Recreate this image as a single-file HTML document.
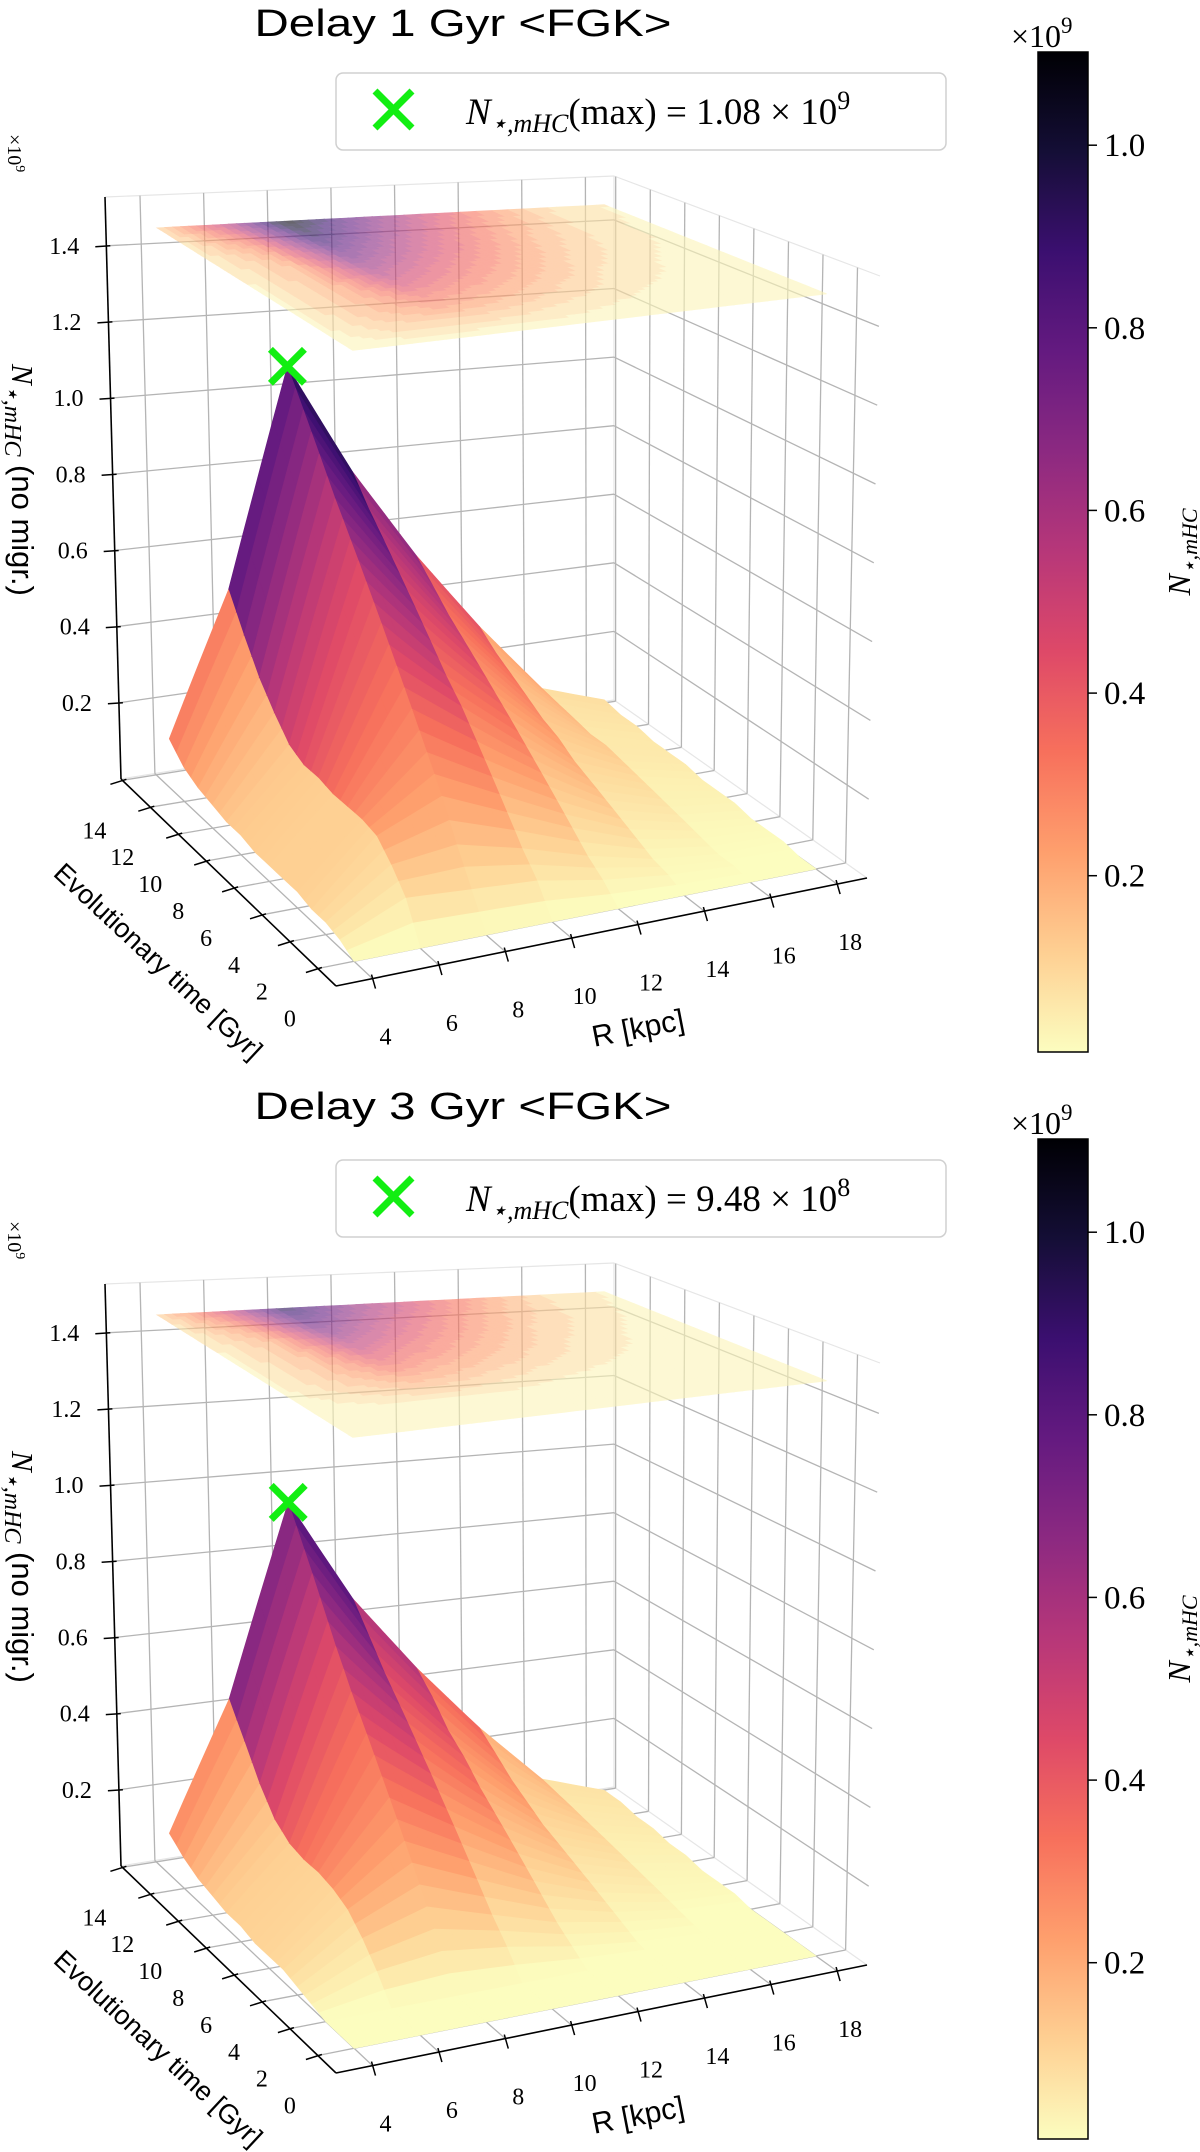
<!DOCTYPE html>
<html><head><meta charset="utf-8"><style>
html,body{margin:0;padding:0;background:#fff;}
svg{display:block;}
.sans{font-family:"Liberation Sans","DejaVu Sans",sans-serif;}
</style></head><body>
<svg id="fig" xmlns="http://www.w3.org/2000/svg" width="1200" height="2152" viewBox="0 0 1200 2152" font-family="Liberation Serif, DejaVu Serif, serif">
<defs>
<linearGradient id="cbgrad" x1="0" y1="1" x2="0" y2="0"></linearGradient>
</defs>
</svg>
<script>
// ---------- data ----------
const R_VALUES=[4,6,8,10,12,14,16,18];
const T_VALUES=[0,1,2,3,4,5,6,7,8,9,10,11,12,13];
const Z_DELAY1=[
[0,.02,.03,.03,.04,.04,.04,.04,.05,.05,.06,.07,.09,.13],
[0,.09,.14,.18,.19,.19,.19,.2,.2,.22,.27,.33,.41,.50],
[0,.08,.16,.25,.33,.41,.49,.57,.65,.73,.81,.9,.99,1.08],
[0,.07,.12,.18,.24,.3,.36,.41,.47,.53,.59,.65,.71,.78],
[0,.04,.07,.11,.15,.19,.23,.27,.31,.35,.39,.43,.48,.53],
[0,.02,.03,.05,.07,.09,.11,.13,.16,.18,.21,.24,.27,.31],
[0,.01,.01,.02,.03,.04,.05,.06,.07,.08,.08,.09,.1,.11],
[0,0,.01,.01,.01,.02,.02,.02,.03,.03,.03,.04,.04,.05]];
const Z_DELAY3=[
[0,0,0,.01,.02,.03,.03,.03,.04,.04,.05,.06,.08,.11],
[0,0,0,.06,.11,.15,.17,.18,.18,.19,.22,.28,.36,.44],
[0,0,0,.08,.16,.24,.32,.4,.48,.56,.65,.75,.85,.948],
[0,0,0,.06,.11,.17,.23,.29,.35,.41,.47,.53,.6,.67],
[0,0,0,.03,.06,.1,.14,.18,.22,.26,.31,.35,.41,.46],
[0,0,0,.01,.03,.05,.07,.09,.11,.13,.16,.19,.23,.27],
[0,0,0,0,.01,.02,.03,.04,.05,.06,.07,.08,.09,.1],
[0,0,0,0,0,.01,.01,.01,.02,.02,.03,.03,.04,.04]];
const Z_TICKS=[0.2,0.4,0.6,0.8,1.0,1.2,1.4];
const Z_TICK_LABELS=["0.2","0.4","0.6","0.8","1.0","1.2","1.4"];
const R_TICKS=[4,6,8,10,12,14,16,18];
const T_TICKS=[0,2,4,6,8,10,12,14];
const CBAR_TICKS=[0.2,0.4,0.6,0.8,1.0];
const CBAR_TICK_LABELS=["0.2","0.4","0.6","0.8","1.0"];
const PANEL_TITLES=["Delay 1 Gyr <FGK>","Delay 3 Gyr <FGK>"];
const PEAK_MANTISSA=["1.08","9.48"];
const PEAK_EXPONENT=["9","8"];

// ---------- geometry ----------
const NS="http://www.w3.org/2000/svg";
const RMIN=2.9,RMAX=18.9,TMIN=-1.3,TMAX=14.1,ZMAX=1.528,ZPLANE=1.47;
const VMIN=0.007,VMAX=1.10;
const FB=[336,986],FC=[867,878],FA=[121,779],FD=[614,700];
const TB=[335,343],TC=[880,276],TA=[105,197],TD=[614,176];
function bil(p00,p10,p01,p11,u,v){
  return [p00[0]*(1-u)*(1-v)+p10[0]*u*(1-v)+p01[0]*(1-u)*v+p11[0]*u*v,
          p00[1]*(1-u)*(1-v)+p10[1]*u*(1-v)+p01[1]*(1-u)*v+p11[1]*u*v];
}
function proj(R,t,z){
  const u=(R-RMIN)/(RMAX-RMIN), v=(t-TMIN)/(TMAX-TMIN), w=z/ZMAX;
  const f=bil(FB,FC,FA,FD,u,v), g=bil(TB,TC,TA,TD,u,v);
  return [f[0]*(1-w)+g[0]*w, f[1]*(1-w)+g[1]*w];
}
const MAGMA=[[0,0,4],[20,14,54],[59,15,112],[100,26,128],[140,41,129],[183,55,121],[222,73,104],[247,112,92],[254,159,109],[254,207,146],[252,253,191]];
function magma(x){
  x=Math.max(0,Math.min(1,x));const s=x*10,i=Math.min(9,Math.floor(s)),f=s-i;
  const a=MAGMA[i],b=MAGMA[i+1];
  return 'rgb('+Math.round(a[0]+(b[0]-a[0])*f)+','+Math.round(a[1]+(b[1]-a[1])*f)+','+Math.round(a[2]+(b[2]-a[2])*f)+')';
}
function cmap(v){return magma(1-(v-VMIN)/(VMAX-VMIN));}
function mk(parent,tag,attrs,name){
  const el=document.createElementNS(NS,tag);
  for(const k in attrs) el.setAttribute(k,attrs[k]);
  
  
  parent.appendChild(el);return el;
}
function line(parent,p,q,stroke,sw,name){
  return mk(parent,'line',{x1:p[0].toFixed(1),y1:p[1].toFixed(1),x2:q[0].toFixed(1),y2:q[1].toFixed(1),stroke:stroke,'stroke-width':sw},name);
}
function ptsStr(a){return a.map(p=>p[0].toFixed(1)+','+p[1].toFixed(1)).join(' ');}
function zAt(Z,i,j,fi,fj){
  const z00=Z[i][j],z10=Z[i+1][j],z01=Z[i][j+1],z11=Z[i+1][j+1];
  return z00*(1-fi)*(1-fj)+z10*fi*(1-fj)+z01*(1-fi)*fj+z11*fi*fj;
}
function rAt(i,fi){return R_VALUES[i]+(R_VALUES[i+1]-R_VALUES[i])*fi;}
function tAt(j,fj){return T_VALUES[j]+(T_VALUES[j+1]-T_VALUES[j])*fj;}

const grad=document.getElementById('cbgrad');
for(let k=0;k<=20;k++){
  const s=document.createElementNS(NS,'stop');
  s.setAttribute('offset',(k/20).toFixed(2));
  s.setAttribute('stop-color',magma(1-k/20));
  grad.appendChild(s);
}

const fig=document.getElementById('fig');

function drawPanel(idx,Z,dy,cdy,tdy){
  const g=mk(fig,'g',{transform:'translate(0,'+dy+')'},'panel-'+(idx+1));
  const title=mk(fig,'text',{x:463,y:36+tdy,'font-size':38,'text-anchor':'middle',class:'sans',textLength:417,lengthAdjust:'spacingAndGlyphs'},'panel-title');
  title.textContent=PANEL_TITLES[idx];
  const grid=mk(g,'g',{},'grid-lines');
  const gc='#b4b4b4';
  line(grid,proj(RMIN,TMAX,ZMAX),proj(RMAX,TMAX,ZMAX),'#e6e6e6',1.2,'pane-edge');
  line(grid,proj(RMAX,TMAX,ZMAX),proj(RMAX,TMIN,ZMAX),'#e6e6e6',1.2,'pane-edge');
  line(grid,proj(RMAX,TMAX,0),proj(RMAX,TMAX,ZMAX),'#e6e6e6',1.2,'pane-edge');
  line(grid,proj(RMAX,TMIN,0),proj(RMAX,TMAX,0),'#e6e6e6',1.2,'pane-edge');
  line(grid,proj(RMIN,TMAX,0),proj(RMAX,TMAX,0),'#e6e6e6',1.2,'pane-edge');
  R_TICKS.forEach(R=>{
    line(grid,proj(R,TMAX,0),proj(R,TMAX,ZMAX),gc,1.3,'grid-r-wall');
    line(grid,proj(R,TMIN,0),proj(R,TMAX,0),gc,1.3,'grid-r-floor');
  });
  T_TICKS.forEach(t=>{
    line(grid,proj(RMAX,t,0),proj(RMAX,t,ZMAX),gc,1.3,'grid-t-wall');
    line(grid,proj(RMIN,t,0),proj(RMAX,t,0),gc,1.3,'grid-t-floor');
  });
  Z_TICKS.forEach(z=>{
    line(grid,proj(RMIN,TMAX,z),proj(RMAX,TMAX,z),gc,1.3,'grid-z-back');
    line(grid,proj(RMAX,TMAX,z),proj(RMAX,TMIN,z),gc,1.3,'grid-z-side');
  });
  const ax=mk(g,'g',{},'axes');
  line(ax,proj(RMIN,TMAX,0),proj(RMIN,TMAX,ZMAX),'#000',1.6,'z-axis-line');
  line(ax,proj(RMIN,TMIN,0),proj(RMIN,TMAX,0),'#000',1.6,'t-axis-line');
  line(ax,proj(RMIN,TMIN,0),proj(RMAX,TMIN,0),'#000',1.6,'r-axis-line');
  Z_TICKS.forEach((z,k)=>{
    const p=proj(RMIN,TMAX,z);
    line(ax,[p[0]-11,p[1]+1],[p[0]+4,p[1]],'#000',1.5,'z-tick');
    const tx=mk(ax,'text',{x:(p[0]-27).toFixed(1),y:(p[1]+8).toFixed(1),'font-size':24,'text-anchor':'end'},'z-tick-label');
    tx.textContent=Z_TICK_LABELS[k];
  });
  T_TICKS.forEach(t=>{
    const p=proj(RMIN,t,0);
    line(ax,[p[0]-12,p[1]+4],[p[0]+4,p[1]-1],'#000',1.5,'t-tick');
    const tx=mk(ax,'text',{x:(p[0]-28).toFixed(1),y:(p[1]+58).toFixed(1),'font-size':24,'text-anchor':'middle'},'t-tick-label');
    tx.textContent=String(t);
  });
  R_TICKS.forEach(R=>{
    const p=proj(R,TMIN,0);
    line(ax,[p[0]-1,p[1]-4],[p[0]+3,p[1]+10],'#000',1.5,'r-tick');
    const tx=mk(ax,'text',{x:(p[0]+13).toFixed(1),y:(p[1]+66).toFixed(1),'font-size':24,'text-anchor':'middle'},'r-tick-label');
    tx.textContent=String(R);
  });
  const rl=mk(ax,'text',{x:0,y:0,'font-size':30,'text-anchor':'middle',class:'sans',transform:'translate(640,1038) rotate(-11)'},'r-axis-title');
  rl.textContent='R [kpc]';
  const tl=mk(ax,'text',{x:0,y:0,'font-size':27,'text-anchor':'middle',class:'sans',transform:'translate(152,968) rotate(43)'},'t-axis-title');
  tl.textContent='Evolutionary time [Gyr]';
  const zl=mk(ax,'text',{x:0,y:0,'font-size':31,'text-anchor':'middle',transform:'translate(12,480) rotate(90)'},'z-axis-title');
  zl.innerHTML='<tspan font-style="italic">N</tspan><tspan font-style="italic" font-size="24" dy="7">⋆,mHC</tspan><tspan dy="-7" font-family="Liberation Sans, sans-serif"> (no migr.)</tspan>';
  const ze=mk(ax,'text',{x:0,y:0,'font-size':20,transform:'translate(8,134) rotate(90)'},'z-axis-offset');
  ze.innerHTML='×10<tspan font-size="14" dy="-8">9</tspan>';

  // surface
  const surf=mk(g,'g',{},'surface');
  const SI=4,SJ=2,quads=[];
  for(let i=0;i<R_VALUES.length-1;i++)for(let j=0;j<T_VALUES.length-1;j++)
  for(let a=0;a<SI;a++)for(let b=0;b<SJ;b++){
    const f0=a/SI,f1=(a+1)/SI,g0=b/SJ,g1=(b+1)/SJ;
    const c=[[f0,g0],[f1,g0],[f1,g1],[f0,g1]];
    const pts=[];
    c.forEach(q=>{const z=zAt(Z,i,j,q[0],q[1]);pts.push(proj(rAt(i,q[0]),tAt(j,q[1]),z));});
    // colour by mean over the whole R cell (matplotlib facet colouring)
    const zm=(zAt(Z,i,j,0,g0)+zAt(Z,i,j,1,g0)+zAt(Z,i,j,0,g1)+zAt(Z,i,j,1,g1))/4;
    const depth=proj(rAt(i,(f0+f1)/2),tAt(j,(g0+g1)/2),0)[1];
    quads.push({pts:pts,z:zm,d:depth});
  }
  quads.sort((p,q)=>p.d-q.d);
  quads.forEach(q=>{
    const col=cmap(q.z);
    mk(surf,'polygon',{points:ptsStr(q.pts),fill:col,stroke:col,'stroke-width':0.7,'stroke-linejoin':'round'},'surface-facet');
  });

  // contour projection plane
  const plane=mk(g,'g',{opacity:0.6},'contour-plane');
  const PI=8,PJ=4,STEP=0.05;
  for(let i=0;i<R_VALUES.length-1;i++)for(let j=0;j<T_VALUES.length-1;j++)
  for(let a=0;a<PI;a++)for(let b=0;b<PJ;b++){
    const f0=a/PI,f1=(a+1)/PI,g0=b/PJ,g1=(b+1)/PJ;
    const zc=zAt(Z,i,j,(f0+f1)/2,(g0+g1)/2);
    const lev=(Math.floor(zc/STEP)+0.5)*STEP;
    const col=cmap(lev);
    const pts=[[f0,g0],[f1,g0],[f1,g1],[f0,g1]].map(q=>proj(rAt(i,q[0]),tAt(j,q[1]),ZPLANE));
    mk(plane,'polygon',{points:ptsStr(pts),fill:col,stroke:col,'stroke-width':0.8},'contour-cell');
  }

  // peak marker
  let bi=0,bj=0;
  for(let i=0;i<Z.length;i++)for(let j=0;j<Z[i].length;j++) if(Z[i][j]>Z[bi][bj]){bi=i;bj=j;}
  const pk=proj(R_VALUES[bi],T_VALUES[bj],Z[bi][bj]);
  const mg=mk(g,'g',{},'peak-marker');
  line(mg,[pk[0]-17,pk[1]-17],[pk[0]+17,pk[1]+17],'#12ee12',7,'peak-marker-stroke');
  line(mg,[pk[0]-17,pk[1]+17],[pk[0]+17,pk[1]-17],'#12ee12',7,'peak-marker-stroke');

  // legend
  const lg=mk(g,'g',{},'legend');
  mk(lg,'rect',{x:336,y:73,width:610,height:77,rx:7,fill:'#fff','fill-opacity':0.85,stroke:'#d0d0d0','stroke-width':1.5},'legend-box');
  line(lg,[375,91],[412,128],'#12ee12',7,'legend-marker');
  line(lg,[375,128],[412,91],'#12ee12',7,'legend-marker');
  const lt=mk(lg,'text',{x:466,y:124,'font-size':37},'legend-label');
  lt.innerHTML='<tspan font-style="italic">N</tspan><tspan font-style="italic" font-size="26" dy="8">⋆,mHC</tspan><tspan dy="-8">(max) = '+PEAK_MANTISSA[idx]+' × 10</tspan><tspan font-size="26" dy="-15">'+PEAK_EXPONENT[idx]+'</tspan>';

  // colorbar
  const cb=mk(fig,'g',{transform:'translate(0,'+cdy+')'},'colorbar');
  const y0=52,y1=1052,top=1.102,bot=0.007;
  const cy=v=>y1-(v-bot)/(top-bot)*(y1-y0);
  mk(cb,'rect',{x:1038,y:y0,width:50,height:y1-y0,fill:'url(#cbgrad)',stroke:'#000','stroke-width':1.5},'colorbar-bar');
  CBAR_TICKS.forEach((v,k)=>{
    const y=cy(v);
    line(cb,[1088,y],[1097,y],'#000',1.5,'colorbar-tick');
    const tx=mk(cb,'text',{x:1104,y:(y+11).toFixed(1),'font-size':33},'colorbar-tick-label');
    tx.textContent=CBAR_TICK_LABELS[k];
  });
  const ce=mk(cb,'text',{x:1011,y:47,'font-size':32},'colorbar-offset');
  ce.innerHTML='×10<tspan font-size="23" dy="-14">9</tspan>';
  const cl=mk(cb,'text',{x:0,y:0,'font-size':32,'text-anchor':'middle',transform:'translate(1190,552) rotate(-90)'},'colorbar-title');
  cl.innerHTML='<tspan font-style="italic">N</tspan><tspan font-style="italic" font-size="22" dy="7">⋆,mHC</tspan>';
}
drawPanel(0,Z_DELAY1,0,0,0);
drawPanel(1,Z_DELAY3,1087,1087,1083);
</script>
</body></html>
